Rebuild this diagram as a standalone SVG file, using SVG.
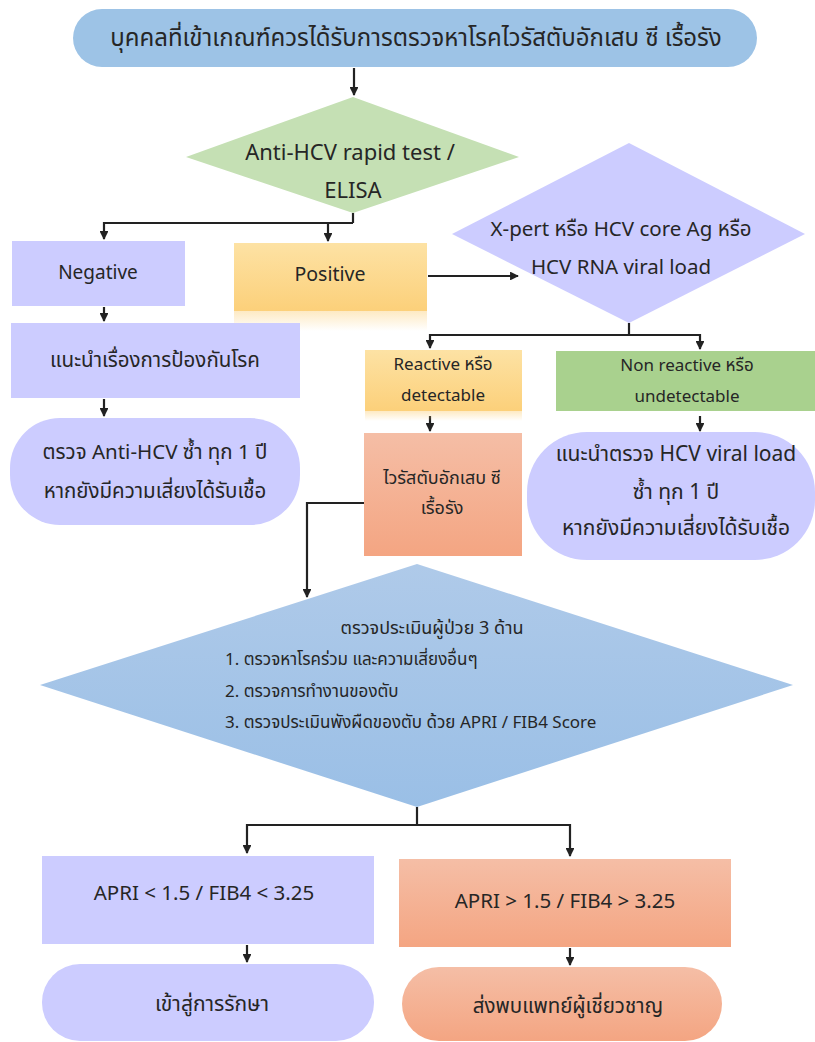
<svg xmlns="http://www.w3.org/2000/svg" width="815" height="1042" viewBox="0 0 815 1042">
<style>
text{font-family:"Noto Sans Thai","Tahoma","Noto Sans","DejaVu Sans",sans-serif;fill:#262626;text-anchor:middle;dominant-baseline:central}
.t20{font-size:20.5px}
.t17{font-size:17px}
.lav{fill:#ccccff}
.conn{fill:none;stroke:#222;stroke-width:2.2}
</style>
<defs>
<marker id="ah" viewBox="0 0 10 10" refX="9" refY="5" markerWidth="4" markerHeight="4" orient="auto" markerUnits="strokeWidth">
<path d="M0,0 L10,5 L0,10 z" fill="#222"/>
</marker>
<linearGradient id="salmon" x1="0" y1="0" x2="0" y2="1"><stop offset="0" stop-color="#f5bea6"/><stop offset="1" stop-color="#f4a582"/></linearGradient>
<linearGradient id="yellow" x1="0" y1="0" x2="0" y2="1"><stop offset="0" stop-color="#fde2a4"/><stop offset="1" stop-color="#fcd07a"/></linearGradient>
<linearGradient id="refl" x1="0" y1="0" x2="0" y2="1"><stop offset="0" stop-color="#fcd07a" stop-opacity="0.45"/><stop offset="1" stop-color="#fcd07a" stop-opacity="0"/></linearGradient>
<linearGradient id="blue" x1="0" y1="0" x2="0" y2="1"><stop offset="0" stop-color="#afcae9"/><stop offset="1" stop-color="#9abfe6"/></linearGradient>
</defs>

<g id="connectors">
<path class="conn" d="M354,68 V95" marker-end="url(#ah)"/>
<path class="conn" d="M353,213 V223"/>
<path class="conn" d="M353,223 H104 V239" marker-end="url(#ah)"/>
<path class="conn" d="M328,223 V241" marker-end="url(#ah)"/>
<path class="conn" d="M428,276 H518" marker-end="url(#ah)"/>
<path class="conn" d="M104,307 V321" marker-end="url(#ah)"/>
<path class="conn" d="M104,399 V416" marker-end="url(#ah)"/>
<path class="conn" d="M629,323 V335"/>
<path class="conn" d="M629,335 H430 V348" marker-end="url(#ah)"/>
<path class="conn" d="M629,335 H700 V349" marker-end="url(#ah)"/>
<path class="conn" d="M430,416 V431" marker-end="url(#ah)"/>
<path class="conn" d="M700,416 V431" marker-end="url(#ah)"/>
<path class="conn" d="M364,503 H307 V597" marker-end="url(#ah)"/>
<path class="conn" d="M417,807 V825"/>
<path class="conn" d="M417,825 H247 V853" marker-end="url(#ah)"/>
<path class="conn" d="M417,825 H570 V856" marker-end="url(#ah)"/>
<path class="conn" d="M247,945 V962" marker-end="url(#ah)"/>
<path class="conn" d="M570,948 V965" marker-end="url(#ah)"/>
</g>

<g id="start">
<rect x="73" y="9" width="684" height="58" rx="29" fill="#9dc3e6"/>
<text x="416" y="39" style="font-size:24px">บุคคลที่เข้าเกณฑ์ควรได้รับการตรวจหาโรคไวรัสตับอักเสบ ซี เรื้อรัง</text>
</g>

<g id="anti-hcv">
<polygon points="353,97 519,157 353,213 186,157" fill="#c5e0b4"/>
<text x="350" y="153" style="font-size:22px">Anti-HCV rapid test /</text>
<text x="353" y="191" style="font-size:22px">ELISA</text>
</g>

<g id="negative">
<rect class="lav" x="12" y="241" width="173" height="65"/>
<text x="98" y="273" style="font-size:19px">Negative</text>
</g>

<g id="positive">
<rect x="234" y="243" width="193" height="68" fill="url(#yellow)"/>
<rect x="234" y="311" width="193" height="20" fill="url(#refl)"/>
<text x="330" y="275" style="font-size:19.5px">Positive</text>
</g>

<g id="xpert">
<polygon points="629,143 805,234 629,323 452,234" fill="#ccccff"/>
<text class="t20" x="621" y="229">X-pert หรือ HCV core Ag หรือ</text>
<text class="t20" x="621" y="267">HCV RNA viral load</text>
</g>

<g id="prevent">
<rect class="lav" x="11" y="323" width="289" height="75"/>
<text class="t20" x="155" y="360">แนะนำเรื่องการป้องกันโรค</text>
</g>

<g id="retest">
<rect class="lav" x="10" y="418" width="290" height="107" rx="50"/>
<text class="t20" x="155" y="452">ตรวจ Anti-HCV ซ้ำ ทุก 1 ปี</text>
<text class="t20" x="155" y="491">หากยังมีความเสี่ยงได้รับเชื้อ</text>
</g>

<g id="reactive">
<rect x="365" y="350" width="157" height="61" fill="url(#yellow)"/>
<rect x="365" y="411" width="157" height="10" fill="url(#refl)"/>
<text class="t17" x="443" y="365">Reactive หรือ</text>
<text class="t17" x="443" y="396">detectable</text>
</g>

<g id="nonreactive">
<rect x="556" y="351" width="259" height="60" fill="#a9d18e"/>
<text class="t17" x="687" y="366">Non reactive หรือ</text>
<text class="t17" x="687" y="397">undetectable</text>
</g>

<g id="chronic">
<rect x="364" y="433" width="158" height="123" fill="url(#salmon)"/>
<text x="442" y="478" style="font-size:18px">ไวรัสตับอักเสบ ซี</text>
<text x="442" y="508" style="font-size:18px">เรื้อรัง</text>
</g>

<g id="viralload">
<rect class="lav" x="527" y="432" width="288" height="128" rx="60"/>
<text x="676" y="454" style="font-size:21px">แนะนำตรวจ HCV viral load</text>
<text x="676" y="492" style="font-size:21px">ซ้ำ ทุก 1 ปี</text>
<text x="676" y="528" style="font-size:21px">หากยังมีความเสี่ยงได้รับเชื้อ</text>
</g>

<g id="assess">
<polygon points="417,564 793,685 417,807 40,685" fill="url(#blue)"/>
<text x="432" y="628" style="font-size:18px">ตรวจประเมินผู้ป่วย 3 ด้าน</text>
<text x="225" y="660" style="font-size:17px;text-anchor:start">1. ตรวจหาโรคร่วม และความเสี่ยงอื่นๆ</text>
<text x="225" y="692" style="font-size:17px;text-anchor:start">2. ตรวจการทำงานของตับ</text>
<text x="225" y="723" style="font-size:17px;text-anchor:start">3. ตรวจประเมินพังผืดของตับ ด้วย APRI / FIB4 Score</text>
</g>

<g id="apri-low">
<rect class="lav" x="42" y="856" width="332" height="88"/>
<text class="t20" x="204" y="893">APRI &lt; 1.5 / FIB4 &lt; 3.25</text>
</g>

<g id="apri-high">
<rect x="399" y="859" width="332" height="88" fill="url(#salmon)"/>
<text class="t20" x="565" y="901">APRI &gt; 1.5 / FIB4 &gt; 3.25</text>
</g>

<g id="treat">
<rect class="lav" x="42" y="964" width="332" height="77" rx="38"/>
<text x="212" y="1004" style="font-size:21px">เข้าสู่การรักษา</text>
</g>

<g id="refer">
<rect x="402" y="967" width="320" height="74" rx="37" fill="url(#salmon)"/>
<text class="t20" x="568" y="1006">ส่งพบแพทย์ผู้เชี่ยวชาญ</text>
</g>
</svg>
